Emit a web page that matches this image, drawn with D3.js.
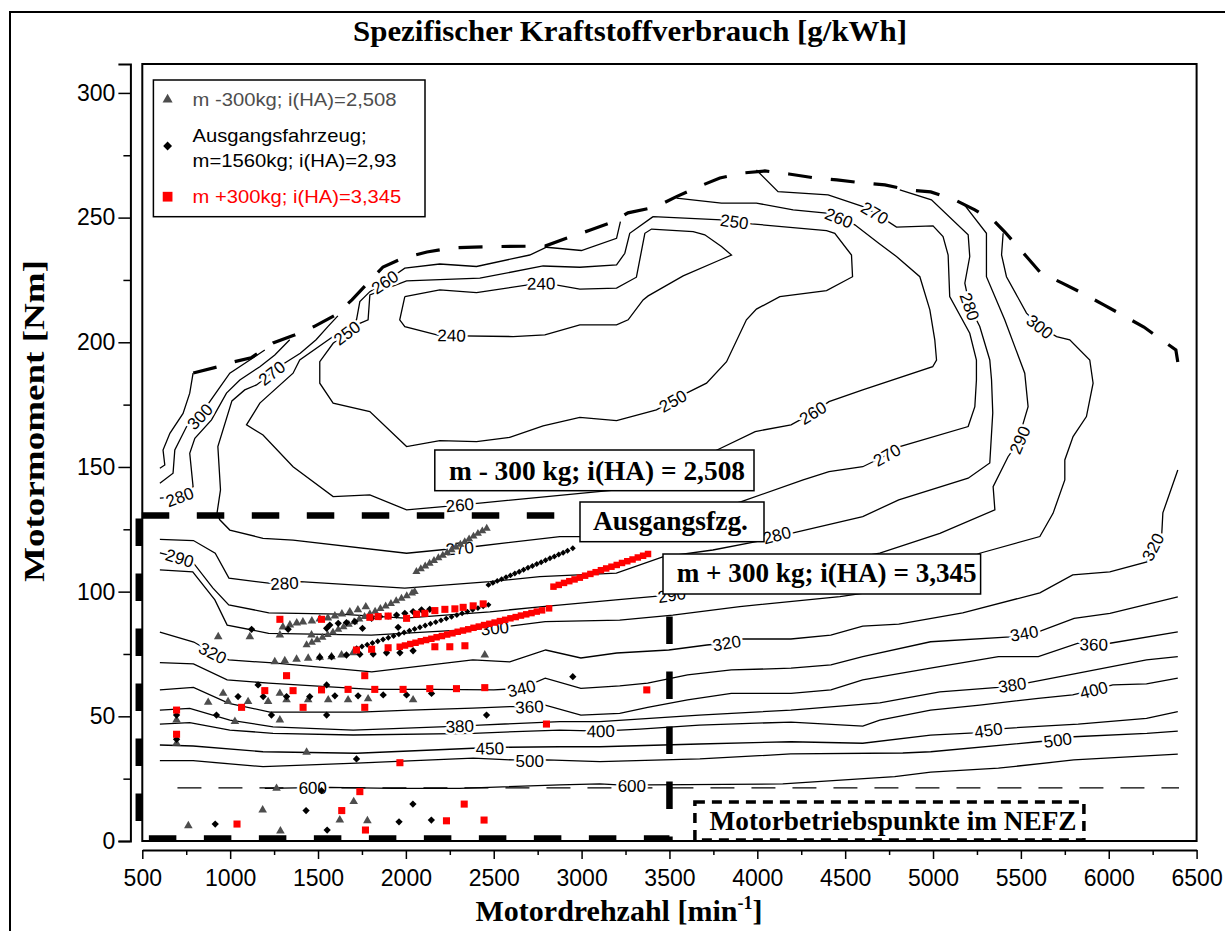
<!DOCTYPE html>
<html>
<head>
<meta charset="utf-8">
<script src="https://cdn.jsdelivr.net/npm/d3@7/dist/d3.min.js"></script>
<style>
  body { margin: 0; background: #fff; }
  svg { display: block; }
  text { font-family: Arial, "Liberation Sans", sans-serif; }
  .serif { font-family: "Times New Roman", "Liberation Serif", serif; font-weight: bold; }
</style>
</head>
<body>
<script>
// ---- axis ticks ----
var xTicks = [500, 1000, 1500, 2000, 2500, 3000, 3500, 4000, 4500, 5000, 5500, 6000, 6500];
var xMinor = [750, 1250, 1750, 2250, 2750, 3250, 3750, 4250, 4750, 5250, 5750, 6250];
var yTicks = [0, 50, 100, 150, 200, 250, 300];
var yMinor = [25, 75, 125, 175, 225, 275];

// ---- full load curve [rpm, Nm] ----
var fullLoad = [[790,187.7],[925,190.1],[993,191.7],[1119,193.8],[1244,199.7],[1366,202.9],[1477,206.3],[1602,211.0],[1693,217.0],[1870,230.2],[1984,233.8],[2120,236.2],[2251,237.8],[2388,238.2],[2525,238.4],[2792,238.6],[2917,241.8],[3054,245.1],[3179,248.3],[3264,251.9],[3423,254.3],[3537,258.3],[3662,262.3],[3787,265.9],[3918,267.9],[4043,268.7],[4180,267.5],[4328,265.9],[4453,265.1],[4601,263.9],[4726,263.1],[4862,261.1],[4987,260.3],[5124,257.1],[5238,253.1],[5352,248.3],[5409,244.2],[5534,234.2],[5608,228.2],[5733,223.8],[5847,219.8],[5972,215.0],[6075,211.0],[6200,206.1],[6382,196.9],[6393,192.1]];

// ---- bsfc contour lines [rpm, Nm] ----
var c240 = [[1994,218.3],[2193,221.0],[2402,219.9],[2781,223.9],[2990,221.3],[3199,221.7],[3312,226.1],[3360,243.7],[3398,245.4],[3635,244.4],[3701,243.1],[3796,238.4],[3853,235.0],[3787,233.0],[3578,226.6],[3379,218.6],[3350,217.0],[3265,209.0],[3199,207.0],[2990,207.0],[2791,203.0],[2610,202.3],[2193,202.7],[1994,206.3],[1965,209.0],[1994,218.3]];
var c250 = [[3407,250.4],[3796,249.1],[3967,247.5],[4394,244.8],[4441,243.7],[4536,235.0],[4542,226.3],[4394,220.7],[4128,218.3],[3995,213.3],[3938,209.0],[3825,192.2],[3711,183.6],[3597,179.6],[3426,172.9],[3199,168.6],[2990,169.9],[2781,166.5],[2591,161.9],[2402,160.2],[2193,160.6],[2004,158.2],[1795,172.2],[1586,175.6],[1510,183.6],[1510,192.2],[1586,199.6],[1662,203.6],[1738,207.6],[1785,209.0],[1795,219.0],[2004,224.6],[2421,225.7],[2781,230.6],[2990,230.1],[3199,231.0],[3246,235.7],[3274,243.7],[3407,250.4]];
var c260 = [[3221,248.4],[3199,241.7],[2999,236.8],[2800,238.1],[2705,235.0],[2402,230.4],[2193,231.4],[1994,229.7],[1880,224.2],[1795,220.3],[1738,216.3],[1719,209.0],[1586,202.3],[1396,192.9],[1358,187.6],[1169,175.6],[1093,166.9],[1187,162.8],[1358,150.1],[1586,138.1],[1795,138.8],[2004,132.8],[2212,134.1],[2307,134.8],[2421,135.5],[3198,140.8],[3762,156.5],[3988,164.2],[4192,166.9],[4316,171.7],[4408,176.2],[4600,180.9],[4998,190.2],[5020,192.9],[5010,201.0],[4982,213.0],[4925,226.3],[4792,234.4],[4691,239.7],[4555,247.1],[4464,249.9],[4394,251.8],[4204,253.1],[3995,255.8],[3796,255.8],[3540,257.8]];
var c270 = [[1613,210.6],[1556,206.3],[1489,201.0],[1399,195.6],[1309,191.6],[1237,187.7],[1150,182.9],[1083,180.9],[1010,176.5],[930,158.2],[945,140.8],[925,131.4],[941,128.8],[998,124.7],[1187,121.4],[1358,120.7],[2004,115.4],[2307,117.5],[2383,118.0],[2876,122.1],[3217,122.1],[3909,136.1],[4261,144.8],[4408,148.1],[4600,150.1],[4737,154.8],[4811,158.2],[5200,166.2],[5238,174.2],[5247,184.9],[5247,192.9],[5209,203.6],[5095,218.3],[5086,235.0],[5057,242.4],[5000,246.7],[4792,246.2],[4669,251.9],[4602,254.4],[4403,259.1],[4118,260.4],[3995,269.1]];
var c280a = [[600,137.5],[713,138.0],[789,142.1],[770,155.5],[799,161.5],[894,168.9],[979,179.6],[1055,184.9],[1169,190.2],[1254,194.9],[1339,201.0]];
var c280b = [[600,121.0],[791,120.5],[915,115.4],[993,105.4],[1219,103.4],[1309,103.4],[1399,104.0],[1994,101.4],[2478,104.0],[2762,106.0],[3198,107.4],[3462,113.9],[3747,116.7],[4043,120.7],[4111,122.7],[4192,123.4],[4600,130.1],[4805,136.8],[5200,145.5],[5323,151.6],[5340,171.7],[5333,184.9],[5323,192.9],[5266,206.3],[5209,214.3],[5181,223.7],[5209,234.4],[5200,243.1],[4991,257.1],[4811,261.1]];
var c290 = [[600,115.5],[713,113.5],[791,111.5],[901,101.5],[992,94.7],[1220,91.5],[1624,91.0],[1994,89.4],[2478,91.9],[2762,93.9],[3195,96.7],[3513,98.7],[4014,106.7],[4697,115.4],[5039,123.4],[5352,132.8],[5342,142.1],[5427,154.1],[5494,160.8],[5513,167.5],[5541,174.2],[5522,187.6],[5408,209.0],[5304,226.3],[5304,243.7],[5171,255.8]];
var c300a = [[600,143.5],[675,147.5],[685,156.8],[752,166.2],[827,170.2],[884,176.2],[931,180.9],[998,187.6],[1112,192.9],[1197,196.9]];
var c300b = [[600,108.7],[787,107.9],[913,96.7],[983,86.6],[1219,83.3],[1803,82.6],[2506,85.4],[2793,88.0],[3217,88.6],[3519,90.6],[3900,94.0],[4470,98.0],[4811,101.5],[5266,115.4],[5608,122.1],[5683,131.4],[5750,144.8],[5750,152.8],[5797,162.2],[5873,170.2],[5911,183.6],[5892,192.9],[5778,201.0],[5703,202.3],[5608,206.3],[5532,211.7],[5418,226.3],[5390,235.0],[5399,243.7]];
var cOuter = [[600,149.5],[628,150.8],[618,156.8],[657,163.5],[732,171.5],[770,179.6],[789,187.6]];
var c320 = [[600,83.8],[793,79.8],[901,75.4],[992,72.6],[1243,71.4],[1806,67.8],[2381,72.6],[2591,71.8],[2796,76.6],[2996,73.4],[3200,75.4],[3496,76.6],[3713,78.6],[3826,79.4],[3917,81.0],[4191,81.0],[4418,82.6],[4600,86.2],[4805,87.0],[5169,91.5],[5608,99.5],[5795,106.7],[6006,107.9],[6217,111.9],[6251,117.9],[6302,123.5],[6308,131.6],[6393,148.8]];
var c340 = [[600,71.5],[791,71.0],[983,64.6],[1219,63.3],[1803,60.8],[2164,60.8],[2500,60.6],[2658,61.2],[2793,65.3],[2996,61.2],[3217,62.2],[3376,63.3],[3603,66.6],[3852,68.6],[4192,69.3],[4419,70.6],[4600,73.9],[4986,79.9],[5440,81.9],[5519,83.3],[5599,83.9],[5803,89.3],[6007,91.3],[6393,97.9]];
var c360 = [[600,60.6],[791,61.6],[993,55.2],[1226,51.7],[1738,51.7],[2022,52.5],[2381,53.3],[2591,53.9],[2703,53.9],[2793,54.5],[2996,50.5],[3217,51.2],[3376,53.6],[3603,56.6],[3852,59.2],[4192,59.2],[4419,60.6],[4600,64.6],[4986,69.3],[5372,73.9],[5599,73.9],[5826,79.3],[5915,78.9],[6007,79.3],[6393,83.9]];
var c380 = [[600,52.5],[770,53.2],[998,48.5],[1244,45.8],[1700,44.5],[2193,45.8],[2307,46.1],[2421,46.5],[2876,47.9],[3104,47.9],[3670,50.5],[4192,52.5],[4697,55.4],[5039,59.8],[5372,61.6],[5451,62.6],[5531,63.3],[5826,67.3],[6215,72.6],[6393,73.9]];
var c400 = [[600,46.9],[770,47.5],[998,44.5],[1244,43.2],[1700,42.5],[2383,43.2],[2876,44.5],[3109,44.1],[3331,44.9],[3670,46.5],[4192,47.7],[4600,46.1],[4697,48.5],[4986,52.5],[5266,54.5],[5599,57.2],[5795,58.6],[5915,60.6],[6023,62.6],[6215,63.0],[6393,65.3]];
var c450 = [[600,38.5],[789,38.1],[1187,35.8],[1719,35.2],[2383,37.2],[2478,37.2],[2573,37.6],[2876,37.8],[3104,37.8],[3670,38.9],[4192,39.8],[4600,39.2],[4986,42.5],[5235,43.4],[5315,44.5],[5417,45.2],[5826,46.9],[6215,49.2],[6393,51.9]];
var c500 = [[600,32.2],[789,32.2],[1187,29.8],[1719,31.2],[2383,33.2],[2610,32.5],[2705,32.2],[2800,32.5],[3104,31.8],[3673,32.9],[4190,34.9],[4828,35.3],[4987,35.8],[5596,39.8],[5710,40.5],[5801,41.8],[6217,43.2],[6393,44.1]];
var c600 = [[1197,21.1],[1470,21.4],[1567,21.5],[1926,21.1],[2307,21.1],[2876,22.5],[3104,22.9],[3286,22.2],[3377,22.5],[4145,22.9],[4782,25.8],[4987,27.6],[5372,29.2],[5801,32.5],[6393,34.8]];
var dashed600 = [[700,21.3],[6400,21.3]];

// contour labels [value, rpm, Nm]
var contourLabels = [
  [240,2770,223.6],[240,2260,202.8],
  [250,3870,248.4],[250,3519,176.5],[250,1664,203.8],
  [260,1880,224.2],[260,2307,134.8],[260,4316,171.7],[260,4464,249.9],
  [270,1237,187.7],[270,2307,117.5],[270,4737,154.8],[270,4669,251.9],
  [280,713,138.0],[280,1309,103.4],[280,4111,122.7],[280,5209,214.3],
  [290,713,113.5],[290,3513,98.7],[290,5494,160.8],
  [300,827,170.2],[300,2506,85.4],[300,5608,206.3],
  [320,901,75.4],[320,3826,79.4],[320,6251,117.9],
  [340,2658,61.2],[340,5519,83.3],
  [360,2703,53.9],[360,5915,78.9],
  [380,2307,46.1],[380,5451,62.6],
  [400,3109,44.1],[400,5915,60.6],
  [450,2478,37.2],[450,5315,44.5],
  [500,2705,32.2],[500,5710,40.5],
  [600,1470,21.4],[600,3286,22.2]
];

// ---- NEFZ operating points [rpm, Nm] ----
// m -300kg; i(HA)=2,508
var triangles = [[1300,85.8],[1340,86.6],[1379,87.4],[1414,87.8],[1465,88.2],[1510,89.0],[1556,89.4],[1596,90.2],[1636,91.0],[1681,91.9],[1727,92.7],[1772,93.9],
  [1254,71.9],[1311,72.3],[1378,72.9],[1444,73.3],[1510,73.7],[1577,73.9],[1634,74.6],[1700,75.5],
  [932,81.9],[1112,81.9],[1283,82.6],[1463,82.6],[2449,74.6],[875,55.6],[960,59.2],[988,55.9],[1027,47.9],[1102,55.9],[1216,55.9],[1283,59.2],[1283,48.5],[1321,56.6],[1444,56.6],[1558,56.6],[1671,56.6],[1785,57.0],[2041,56.6],[695,48.5],[695,39.2],[1435,35.6],[1264,21.1],[762,6.1],[1185,12.4],[1286,4.0],[1624,8.4],[1703,15.8],[1781,8.1]];
var trianglesRamp = [[1435,78.6],[1465,79.6],[1495,80.6],[1525,81.6],[1555,82.7],[1585,83.7],[1615,84.8],[1645,85.8],[1675,86.9],[1705,87.9],[1735,89.0],[1765,90.0],[1795,91.1],[1825,92.1],[1855,93.2],[1885,94.2],[1915,95.2],[1945,96.3],[1975,97.3],[2005,98.3],[2035,99.4],[2050,100.0],
  [2060,108.0],[2085,109.1],[2110,110.2],[2135,111.3],[2160,112.4],[2185,113.5],[2210,114.5],[2235,115.6],[2260,116.7],[2285,117.8],[2310,118.9],[2335,120.0],[2360,121.1],[2385,122.2],[2410,123.3],[2435,124.3],[2460,125.4]];
// Ausgangsfahrzeug
var diamonds = [[1122,84.9],[1330,84.9],[1549,85.3],[1567,86.6],[1615,87.3],[1662,87.6],[1710,88.0],[1753,85.3],[1805,89.3],[1852,90.0],[1899,90.2],[1947,90.6],[1994,91.3],[2041,92.0],[2089,92.7],[2136,92.9],[1956,85.7],
  [1510,73.7],[1577,73.9],[1662,74.6],[1738,74.9],[1814,75.0],[1890,75.5],[1966,75.5],[2041,76.3],
  [1159,62.6],[1549,62.6],[922,50.5],[1045,57.9],[1188,57.9],[1235,50.5],[1321,57.9],[1453,57.9],[1596,58.2],[1728,58.2],[1871,58.6],[2004,58.6],[2146,59.2],[1549,50.5],[2459,50.5],[695,50.5],[695,40.8],[1719,32.9],[1520,20.2],[915,6.8],[1432,12.2],[1552,4.4],[1961,7.7],[2040,14.8],[2145,8.4],[2950,65.9]];
var diamondsRamp = [[1720,77.3],[1750,78.0],[1780,78.7],[1810,79.4],[1840,80.1],[1870,80.8],[1900,81.5],[1930,82.2],[1960,82.9],[1990,83.6],[2020,84.3],[2050,85.0],[2080,85.7],[2110,86.4],[2140,87.1],[2170,87.8],[2200,88.5],[2230,89.2],[2260,89.9],[2290,90.6],[2320,91.3],[2350,92.0],[2380,92.7],[2410,93.4],[2440,94.1],[2470,94.7],
  [2470,102.7],[2495,103.5],[2520,104.3],[2545,105.0],[2570,105.8],[2595,106.5],[2620,107.3],[2645,108.0],[2670,108.8],[2695,109.6],[2720,110.3],[2745,111.1],[2770,111.8],[2795,112.6],[2820,113.4],[2845,114.1],[2870,114.9],[2895,115.6],[2920,116.4],[2950,117.4]];
// m +300kg; i(HA)=3,345
var squares = [[1283,88.9],[1520,88.9],
  [1795,89.7],[1842,90.0],[1899,90.2],[2004,89.3],[2061,91.0],[2108,91.3],[2165,92.4],[2222,92.9],[2279,93.1],[2326,93.7],[2383,94.3],[2440,95.1],
  [1719,76.6],[1805,76.9],[1899,77.5],[2165,77.9],[2250,77.9],[2336,78.3],
  [1321,66.3],[1766,66.3],[1197,60.3],[1358,60.3],[1520,60.6],[1671,60.8],[1823,60.8],[1984,60.8],[2136,61.1],[2288,61.1],[2449,61.5],[1065,53.6],[1415,53.6],[1766,53.6],[695,52.5],[695,42.8],[2800,46.9],[1966,31.4],[1738,19.8],[1039,6.8],[1635,12.2],[1770,4.4],[2231,8.1],[2332,14.8],[2445,8.4],[3371,60.6]];
var squaresRamp = [[1965,77.9],[1995,78.4],[2025,79.0],[2055,79.5],[2085,80.1],[2115,80.6],[2145,81.1],[2175,81.7],[2205,82.2],[2235,82.8],[2265,83.3],[2295,83.9],[2325,84.4],[2355,84.9],[2385,85.5],[2415,86.0],[2445,86.6],[2475,87.1],[2505,87.6],[2535,88.2],[2565,88.7],[2595,89.3],[2625,89.8],[2655,90.4],[2685,90.9],[2715,91.4],[2745,92.0],[2775,92.5],[2815,93.3],
  [2840,102.0],[2870,102.7],[2900,103.5],[2930,104.2],[2960,104.9],[2990,105.6],[3020,106.4],[3050,107.1],[3080,107.8],[3110,108.6],[3140,109.3],[3170,110.0],[3200,110.7],[3230,111.5],[3260,112.2],[3290,112.9],[3320,113.7],[3350,114.4],[3378,115.1]];

// NEFZ region
var nefzRpm = [480, 3500];
var nefzNm = [1, 130.5];

var legendLabels = [["m -300kg; i(HA)=2,508"], ["Ausgangsfahrzeug;", "m=1560kg; i(HA)=2,93"], ["m +300kg; i(HA)=3,345"]];

// ---------------------------------------------------------------
var svg = d3.select("body").append("svg")
    .attr("width", 1225)
    .attr("height", 931);

var x = d3.scaleLinear().domain([500, 6500]).range([142.3, 1196.6]);
var y = d3.scaleLinear().domain([0, 311.6]).range([841, 64]);

// outer frame
svg.append("rect").attr("x", 10).attr("y", 12).attr("width", 1240).attr("height", 940)
    .attr("fill", "none").attr("stroke", "#000").attr("stroke-width", 2);

// title
svg.append("text").attr("class", "serif")
    .attr("x", 630).attr("y", 41).attr("text-anchor", "middle")
    .style("font-size", "30px")
    .attr("textLength", 554).attr("lengthAdjust", "spacingAndGlyphs")
    .text("Spezifischer Kraftstoffverbrauch [g/kWh]");

// plot frame
svg.append("rect").attr("x", x(500)).attr("y", y(311.6))
    .attr("width", x(6500) - x(500)).attr("height", y(0) - y(311.6))
    .attr("fill", "none").attr("stroke", "#000").attr("stroke-width", 2);

var line = d3.line().x(function (d) { return x(d[0]); }).y(function (d) { return y(d[1]); });

var contours = [
  { v: 240, pts: c240 }, { v: 250, pts: c250 }, { v: 260, pts: c260 }, { v: 270, pts: c270 },
  { v: 280, pts: c280a }, { v: 280, pts: c280b }, { v: 290, pts: c290 },
  { v: 300, pts: c300a }, { v: 300, pts: c300b }, { v: 320, pts: cOuter }, { v: 320, pts: c320 },
  { v: 340, pts: c340 }, { v: 360, pts: c360 }, { v: 380, pts: c380 }, { v: 400, pts: c400 },
  { v: 450, pts: c450 }, { v: 500, pts: c500 }, { v: 600, pts: c600 }
];

var gC = svg.append("g");
gC.selectAll("path.contour")
    .data(contours)
    .enter().append("path")
    .attr("class", "contour")
    .attr("d", function (d) { return line(d.pts); })
    .attr("fill", "none").attr("stroke", "#000").attr("stroke-width", 1.3);

gC.append("path").attr("d", line(dashed600))
    .attr("fill", "none").attr("stroke", "#000").attr("stroke-width", 1.3)
    .attr("stroke-dasharray", "24,17");

gC.append("path").attr("d", line(fullLoad))
    .attr("fill", "none").attr("stroke", "#000").attr("stroke-width", 3.2)
    .attr("stroke-dasharray", "24,19");

// label orientation follows the contour it sits on
function pointAt(o, s) {
  var p = o.p, cum = o.cum;
  s = Math.max(0, Math.min(cum[cum.length - 1], s));
  for (var i = 1; i < p.length; i++) {
    if (s <= cum[i]) {
      var seg = cum[i] - cum[i - 1], t = seg ? (s - cum[i - 1]) / seg : 0;
      return [p[i - 1][0] + t * (p[i][0] - p[i - 1][0]), p[i - 1][1] + t * (p[i][1] - p[i - 1][1])];
    }
  }
  return p[p.length - 1];
}

function labelAngle(v, px, py) {
  var best = null, bestD = Infinity;
  contours.filter(function (c) { return c.v === v; }).forEach(function (c) {
    var p = c.pts.map(function (d) { return [x(d[0]), y(d[1])]; });
    var cum = [0];
    for (var i = 1; i < p.length; i++) cum.push(cum[i - 1] + Math.hypot(p[i][0] - p[i - 1][0], p[i][1] - p[i - 1][1]));
    for (var j = 0; j < p.length - 1; j++) {
      var dx = p[j + 1][0] - p[j][0], dy = p[j + 1][1] - p[j][1], L = dx * dx + dy * dy;
      var t = L ? Math.max(0, Math.min(1, ((px - p[j][0]) * dx + (py - p[j][1]) * dy) / L)) : 0;
      var dd = Math.hypot(p[j][0] + t * dx - px, p[j][1] + t * dy - py);
      if (dd < bestD) { bestD = dd; best = { p: p, cum: cum, s: cum[j] + t * Math.sqrt(L) }; }
    }
  });
  if (!best) return 0;
  var a = pointAt(best, best.s - 10), b = pointAt(best, best.s + 10);
  var ang = Math.atan2(b[1] - a[1], b[0] - a[0]) * 180 / Math.PI;
  if (ang > 90) ang -= 180;
  if (ang < -90) ang += 180;
  return ang;
}

svg.append("g").selectAll("text")
    .data(contourLabels)
    .enter().append("text")
    .attr("transform", function (d) {
      var px = x(d[1]), py = y(d[2]);
      return "translate(" + px + "," + py + ") rotate(" + labelAngle(d[0], px, py) + ")";
    })
    .attr("text-anchor", "middle").attr("dy", "0.36em")
    .style("font-size", "17px")
    .attr("fill", "#000").attr("stroke", "#fff").attr("stroke-width", 5)
    .attr("stroke-linejoin", "round").attr("paint-order", "stroke")
    .text(function (d) { return d[0]; });

// NEFZ region, thick dashed
var gN = svg.append("g").attr("fill", "none").attr("stroke", "#000")
    .attr("stroke-width", 6.5).attr("stroke-dasharray", "27.5,27.5").attr("stroke-dashoffset", -3);
gN.append("path").attr("d", line([[nefzRpm[0], nefzNm[1]], [nefzRpm[1], nefzNm[1]]]));
gN.append("path").attr("d", line([[nefzRpm[0], nefzNm[1]], [nefzRpm[0], nefzNm[0]], [nefzRpm[1], nefzNm[0]], [nefzRpm[1], nefzNm[1]]]));

// operating points
function drawPoints(data, type, size, color) {
  svg.append("g").selectAll("path")
      .data(data)
      .enter().append("path")
      .attr("transform", function (d) { return "translate(" + x(d[0]) + "," + y(d[1]) + ")"; })
      .attr("d", d3.symbol().type(type).size(size))
      .attr("fill", color);
}
drawPoints(trianglesRamp, d3.symbolTriangle, 28, "#4d4d4d");
drawPoints(triangles, d3.symbolTriangle, 32, "#4d4d4d");
drawPoints(diamondsRamp, d3.symbolDiamond2, 22, "#000");
drawPoints(diamonds, d3.symbolDiamond2, 34, "#000");
drawPoints(squaresRamp, d3.symbolSquare, 42, "#ff0000");
drawPoints(squares, d3.symbolSquare, 50, "#ff0000");

// annotation boxes
function textBox(x0, y0, w, h, tx, ty, tlen, size, label) {
  svg.append("rect").attr("x", x0).attr("y", y0).attr("width", w).attr("height", h)
      .attr("fill", "#fff").attr("stroke", "#000").attr("stroke-width", 1.5);
  svg.append("text").attr("class", "serif").attr("x", tx).attr("y", ty)
      .style("font-size", size + "px")
      .attr("textLength", tlen).attr("lengthAdjust", "spacingAndGlyphs")
      .text(label);
}
textBox(434.8, 450, 319.2, 40.7, 449, 480, 296, 28, "m - 300 kg; i(HA) = 2,508");
textBox(580, 502, 184, 39.7, 593, 530, 155, 28, "Ausgangsfzg.");
textBox(663, 554, 317.6, 40, 676.7, 582, 300, 28, "m + 300 kg; i(HA) = 3,345");

svg.append("rect").attr("x", 694.9).attr("y", 802).attr("width", 389).attr("height", 38)
    .attr("fill", "#fff").attr("stroke", "#000").attr("stroke-width", 3.5)
    .attr("stroke-dasharray", "10,7");
svg.append("text").attr("class", "serif").attr("x", 709.6).attr("y", 830)
    .style("font-size", "27.5px")
    .attr("textLength", 367).attr("lengthAdjust", "spacingAndGlyphs")
    .text("Motorbetriebspunkte im NEFZ");

// legend
var lg = svg.append("g");
lg.append("rect").attr("x", 153.4).attr("y", 80).attr("width", 271.6).attr("height", 136.7)
    .attr("fill", "#fff").attr("stroke", "#000").attr("stroke-width", 1.5);
var legendSym = [
  { type: d3.symbolTriangle, size: 44, color: "#4d4d4d", my: 99.5, ty: [106], tl: [204] },
  { type: d3.symbolDiamond2, size: 50, color: "#000", my: 146, ty: [141.7, 166.7], tl: [174, 204] },
  { type: d3.symbolSquare, size: 95, color: "#ff0000", my: 196.7, ty: [202.7], tl: [208.7] }
];
legendSym.forEach(function (s, i) {
  lg.append("path").attr("transform", "translate(167.6," + s.my + ")")
      .attr("d", d3.symbol().type(s.type).size(s.size)).attr("fill", s.color);
  legendLabels[i].forEach(function (t, k) {
    lg.append("text").attr("x", 192.5).attr("y", s.ty[k])
        .style("font-size", "18.5px").attr("fill", s.color)
        .attr("textLength", s.tl[k]).attr("lengthAdjust", "spacingAndGlyphs")
        .text(t);
  });
});

// axes
function styleAxis(g) {
  g.selectAll(".domain").attr("stroke-width", 2);
  g.selectAll(".tick line").attr("stroke-width", 1.5);
  g.selectAll(".tick text").style("font-size", "23px").attr("font-family", "Arial, 'Liberation Sans', sans-serif").attr("fill", "#000");
}

var gy = svg.append("g").attr("transform", "translate(130.4,0)")
    .call(d3.axisLeft(y).tickValues(yTicks).tickFormat(d3.format("d")).tickSize(12).tickSizeOuter(12).tickPadding(3));
styleAxis(gy);
var gy2 = svg.append("g").attr("transform", "translate(130.4,0)")
    .call(d3.axisLeft(y).tickValues(yMinor).tickSize(7).tickFormat(""));
gy2.select(".domain").remove();
gy2.selectAll(".tick line").attr("stroke-width", 1.5);

var gx = svg.append("g").attr("transform", "translate(0,850)")
    .call(d3.axisBottom(x).tickValues(xTicks).tickFormat(d3.format("d")).tickSize(9).tickSizeOuter(0).tickPadding(11));
styleAxis(gx);
var gx2 = svg.append("g").attr("transform", "translate(0,850)")
    .call(d3.axisBottom(x).tickValues(xMinor).tickSize(5).tickFormat(""));
gx2.select(".domain").remove();
gx2.selectAll(".tick line").attr("stroke-width", 1.5);

// axis titles
var xt = svg.append("text").attr("class", "serif")
    .attr("x", 619).attr("y", 921).attr("text-anchor", "middle")
    .style("font-size", "30px");
xt.append("tspan").text("Motordrehzahl [min");
xt.append("tspan").attr("dy", -12).style("font-size", "18px").text("-1");
xt.append("tspan").attr("dy", 12).text("]");

svg.append("text").attr("class", "serif")
    .attr("transform", "translate(44,421) rotate(-90)")
    .attr("text-anchor", "middle")
    .style("font-size", "30px")
    .attr("textLength", 322).attr("lengthAdjust", "spacingAndGlyphs")
    .text("Motormoment [Nm]");
</script>
</body>
</html>
